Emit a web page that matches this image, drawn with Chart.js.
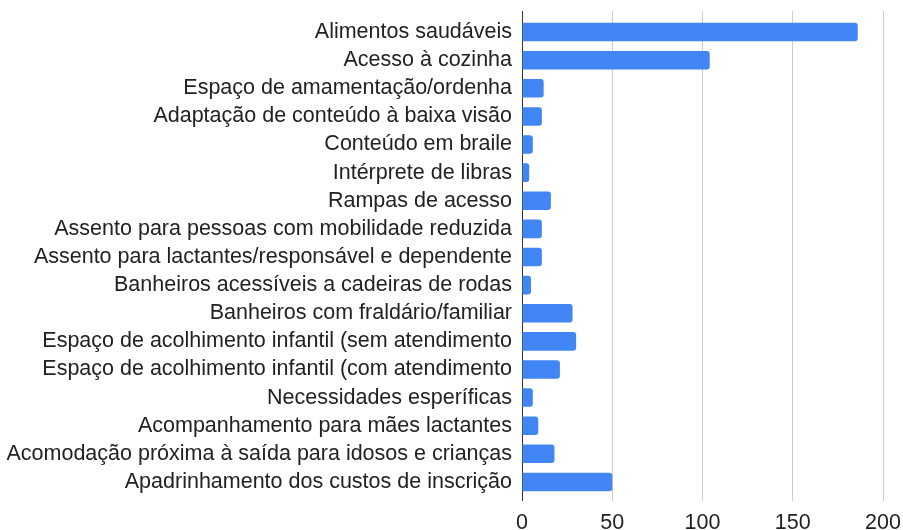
<!DOCTYPE html>
<html lang="pt-BR">
<head>
<meta charset="utf-8">
<script src="https://cdn.jsdelivr.net/npm/chart.js@4/dist/chart.umd.min.js"></script>
<style>
  html, body { margin: 0; padding: 0; background: #fff; }
  #wrap { width: 903px; height: 530px; }
</style>
</head>
<body>
<div id="wrap"><canvas id="chart"></canvas></div>
<script>
'use strict';

const categories = [
  'Alimentos saudáveis',
  'Acesso à cozinha',
  'Espaço de amamentação/ordenha',
  'Adaptação de conteúdo à baixa visão',
  'Conteúdo em braile',
  'Intérprete de libras',
  'Rampas de acesso',
  'Assento para pessoas com mobilidade reduzida',
  'Assento para lactantes/responsável e dependente',
  'Banheiros acessíveis a cadeiras de rodas',
  'Banheiros com fraldário/familiar',
  'Espaço de acolhimento infantil (sem atendimento',
  'Espaço de acolhimento infantil (com atendimento',
  'Necessidades esperíficas',
  'Acompanhamento para mães lactantes',
  'Acomodação próxima à saída para idosos e crianças',
  'Apadrinhamento dos custos de inscrição',
];

const counts = [186, 104, 12, 11, 6, 4, 16, 11, 11, 5, 28, 30, 21, 6, 9, 18, 50];

const xTicks = [0, 50, 100, 150, 200];

const FONT = '"Liberation Sans", Arial, sans-serif';
const GRID = '#cccccc';
const ZERO = '#333333';

const gridColor = (ctx) => (ctx.tick && ctx.tick.value === 0 ? ZERO : GRID);

// Vertical grid lines run a few pixels above the plot area
const gridOverhang = {
  id: 'gridOverhang',
  beforeDatasetsDraw(chart) {
    const { ctx, chartArea, scales } = chart;
    const x = scales.x;
    ctx.save();
    ctx.lineWidth = 1;
    x.ticks.forEach((t, i) => {
      const px = Math.round(x.getPixelForTick(i) - 0.5) + 0.5;
      ctx.strokeStyle = t.value === 0 ? ZERO : GRID;
      ctx.beginPath();
      ctx.moveTo(px, chartArea.top - 7);
      ctx.lineTo(px, chartArea.top);
      ctx.stroke();
    });
    ctx.restore();
  },
};

new Chart(document.getElementById('chart'), {
  type: 'bar',
  data: {
    labels: categories,
    datasets: [
      {
        data: counts,
        backgroundColor: '#4285f4',
        borderWidth: 0,
        borderRadius: 3,
        categoryPercentage: 1.0,
        barPercentage: 0.66,
      },
    ],
  },
  plugins: [gridOverhang],
  options: {
    indexAxis: 'y',
    responsive: true,
    maintainAspectRatio: false,
    animation: false,
    layout: { padding: { top: 18, right: 20, bottom: 0, left: 0 } },
    plugins: {
      legend: { display: false },
      tooltip: { enabled: false },
    },
    scales: {
      x: {
        min: 0,
        max: 200,
        afterBuildTicks: (scale) => {
          scale.ticks = xTicks.map((v) => ({ value: v }));
        },
        afterFit: (scale) => {
          scale.height = 34;
          scale.paddingLeft = 0;
          scale.paddingRight = 0;
        },
        border: { display: false },
        grid: {
          color: gridColor,
          tickColor: gridColor,
          lineWidth: 1,
          drawTicks: true,
          tickLength: 5,
        },
        ticks: {
          color: '#222',
          font: { family: FONT, size: 21.5 },
          padding: 9,
          maxRotation: 0,
        },
      },
      y: {
        afterFit: (scale) => {
          scale.width = 522;
          scale.paddingTop = 0;
          scale.paddingBottom = 0;
        },
        border: { display: false },
        grid: { display: false, drawTicks: false },
        ticks: {
          color: '#222',
          font: { family: FONT, size: 21.5 },
          padding: 10,
          autoSkip: false,
        },
      },
    },
  },
});
</script>
</body>
</html>
